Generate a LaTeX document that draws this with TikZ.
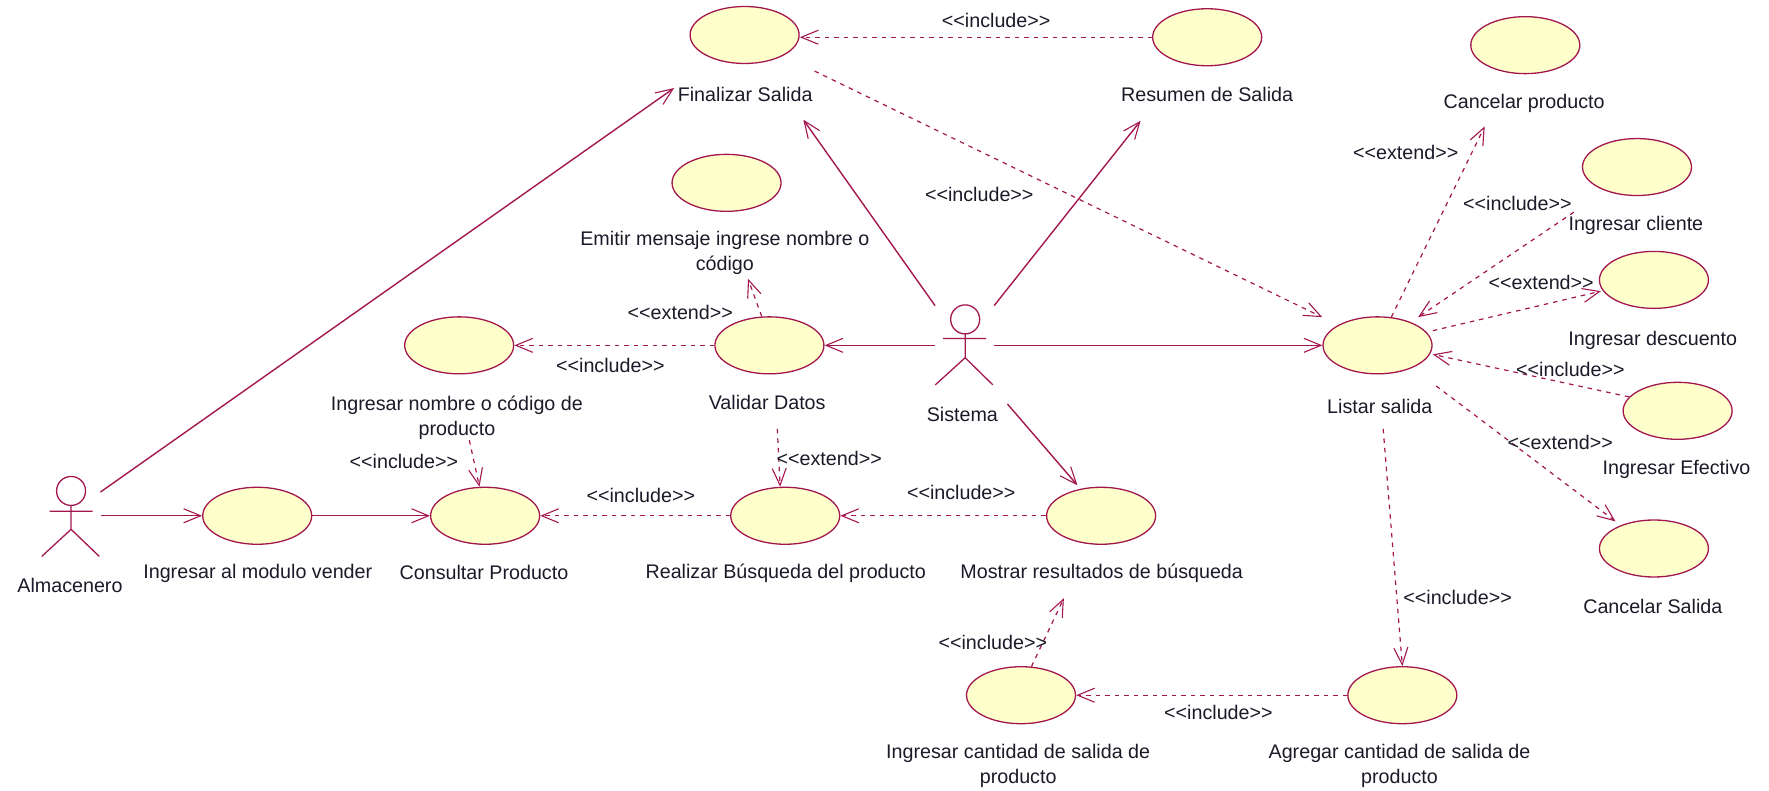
\documentclass[tikz,border=0pt]{standalone}
\usepackage{fontspec}
\setmainfont{Liberation Sans}
\usetikzlibrary{arrows.meta,shapes.geometric}
\definecolor{umlline}{HTML}{A3174F}
\definecolor{umlfill}{HTML}{FFFFCC}
\definecolor{umltext}{HTML}{1A1A28}
\tikzset{
  usecase/.style={ellipse,draw=umlline,fill=umlfill,line width=1.3pt,minimum width=109pt,minimum height=57pt,inner sep=0pt},
  lbl/.style={text=umltext,font=\fontsize{19.7}{25}\selectfont,inner sep=0pt,align=center},
  actorbox/.style={minimum width=58.7pt,minimum height=79pt,inner sep=0pt},
  stick/.style={draw=umlline,line width=1.3pt},
  tipopen/.tip={Straight Barb[length=17pt,width=14pt,line width=1.1pt]},
  assoc/.style={draw=umlline,line width=1.4pt,-tipopen},
  dep/.style={draw=umlline,line width=1.2pt,dash pattern=on 4.5pt off 5pt,-tipopen}
}
\begin{document}
\begin{tikzpicture}[x=1.1282pt,y=-1.1286pt]
\useasboundingbox (0,0) rectangle (1568,700);
% use cases
\node[usecase] (fin) at (660,31) {};
\node[usecase] (res) at (1070,33) {};
\node[usecase] (canp) at (1352,40) {};
\node[usecase] (icli) at (1451,148) {};
\node[usecase] (ides) at (1466,248) {};
\node[usecase] (iefe) at (1487,364) {};
\node[usecase] (cans) at (1466,486) {};
\node[usecase] (lis) at (1221,306) {};
\node[usecase] (emi) at (644,162) {};
\node[usecase] (inom) at (407,306) {};
\node[usecase] (val) at (682,306) {};
\node[usecase] (imod) at (228,457) {};
\node[usecase] (con) at (430,457) {};
\node[usecase] (rea) at (696,457) {};
\node[usecase] (mos) at (976,457) {};
\node[usecase] (ican) at (905,616) {};
\node[usecase] (agr) at (1243,616) {};
% use case labels
\node[lbl] (lfin) at (660.5,84) {Finalizar Salida};
\node[lbl] (lres) at (1070,84) {Resumen de Salida};
\node[lbl] (lcanp) at (1351,92) {Cancelar producto};
\node[lbl] (licli) at (1450,200) {Ingresar cliente};
\node[lbl] (lides) at (1465,302) {Ingresar descuento};
\node[lbl] (liefe) at (1486,416) {Ingresar Efectivo};
\node[lbl] (lcans) at (1465,537) {Cancelar Salida};
\node[lbl] (llis) at (1223,360) {Listar salida};
\node[lbl] (lemi) at (642.5,224) {Emitir mensaje ingrese nombre o\\código};
\node[lbl] (linom) at (405,370) {Ingresar nombre o código de\\producto};
\node[lbl] (lval) at (680,357) {Validar Datos};
\node[lbl] (limod) at (228.5,508) {Ingresar al modulo vender};
\node[lbl] (lcon) at (429,507) {Consultar Producto};
\node[lbl] (lrea) at (696.5,508) {Realizar Búsqueda del producto};
\node[lbl] (lmos) at (976.5,508) {Mostrar resultados de búsqueda};
\node[lbl] (lican) at (902.5,678.5) {Ingresar cantidad de salida de\\producto};
\node[lbl] (lagr) at (1240.5,678.5) {Agregar cantidad de salida de\\producto};
% actors
\node[actorbox] (alm) at (63,457) {};
\node[lbl] (lalm) at (62,519) {Almacenero};
\node[actorbox] (sis) at (855,306) {};
\node[lbl] (lsis) at (853,367) {Sistema};
\draw[stick] (63,435) circle[radius=14.5pt];
\draw[stick] (63,448) -- (63,469) (44,453) -- (82,453) (37,493) -- (63,469) -- (88,493);
\draw[stick] (855.5,283) circle[radius=14.5pt];
\draw[stick] (855.5,296) -- (855.5,317) (836,300) -- (874,300) (829,341) -- (855.5,317) -- (880,341);
% free ends
\coordinate (almup) at (89,436);
\coordinate (tiplfin) at (597.5,78);
\coordinate (tipfin) at (712,106);
\coordinate (tipres) at (1011,107);
\coordinate (finin) at (709,33);
\coordinate (lisnw) at (1172,281);
\coordinate (sisse) at (893,358);
\coordinate (tipmos2) at (955,430);
\coordinate (tipcanp) at (1316,112);
\coordinate (srccli) at (1395,188);
\coordinate (tiplis) at (1257,281);
\coordinate (srcfin) at (722,63);
\coordinate (srcdes) at (1270,293);
\coordinate (tipdes) at (1419,258);
\coordinate (tipefe) at (1270,314);
\coordinate (srccans) at (1273,342);
\coordinate (tipcans) at (1432,462);
\coordinate (srcagr) at (1226,380);
\coordinate (tipmos) at (943,530);
\coordinate (srcrea) at (689,380);
\coordinate (srccon) at (416,390);
\coordinate (tipemi) at (663,247);
% associations
\draw[assoc] (almup) -- (tiplfin);
\draw[assoc] (alm.east) -- (imod.west);
\draw[assoc] (imod.east) -- (con.west);
\draw[assoc] (sis.north west) -- (tipfin);
\draw[assoc] (sis.north east) -- (tipres);
\draw[assoc] (sis.west) -- (val.east);
\draw[assoc] (sis.east) -- (lis.west);
\draw[assoc] (sisse) -- (tipmos2);
% dependencies
\draw[dep] (res.west) -- (finin);
\draw[dep] (srcfin) -- (lisnw);
\draw[dep] (lis.64) -- (tipcanp);
\draw[dep] (srccli) -- (tiplis);
\draw[dep] (srcdes) -- (tipdes);
\draw[dep] (iefe.164) -- (tipefe);
\draw[dep] (srccans) -- (tipcans);
\draw[dep] (srcagr) -- (agr.north);
\draw[dep] (agr.west) -- (ican.east);
\draw[dep] (ican.70) -- (tipmos);
\draw[dep] (mos.west) -- (rea.east);
\draw[dep] (rea.west) -- (con.east);
\draw[dep] (srcrea) -- (rea.100);
\draw[dep] (srccon) -- (con.101);
\draw[dep] (val.west) -- (inom.east);
\draw[dep] (val.105) -- (tipemi);
% stereotype labels
\node[lbl] (s1) at (883,18) {<{}<include>{}>};
\node[lbl] (s2) at (868,172) {<{}<include>{}>};
\node[lbl] (s3) at (1246,135) {<{}<extend>{}>};
\node[lbl] (s4) at (1345,180) {<{}<include>{}>};
\node[lbl] (s5) at (1366,250) {<{}<extend>{}>};
\node[lbl] (s6) at (1392,327) {<{}<include>{}>};
\node[lbl] (s7) at (1383,392) {<{}<extend>{}>};
\node[lbl] (s8) at (1292,529) {<{}<include>{}>};
\node[lbl] (s9) at (1080,631) {<{}<include>{}>};
\node[lbl] (s10) at (880,569) {<{}<include>{}>};
\node[lbl] (s11) at (852,436) {<{}<include>{}>};
\node[lbl] (s12) at (568,439) {<{}<include>{}>};
\node[lbl] (s13) at (735,406) {<{}<extend>{}>};
\node[lbl] (s14) at (358,409) {<{}<include>{}>};
\node[lbl] (s15) at (541,324) {<{}<include>{}>};
\node[lbl] (s16) at (603,277) {<{}<extend>{}>};
\end{tikzpicture}
\end{document}
